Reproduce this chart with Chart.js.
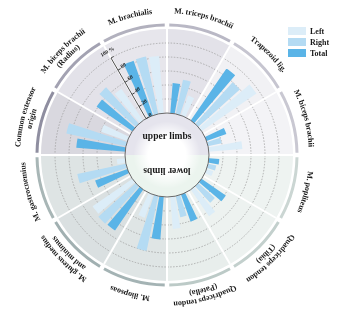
<!DOCTYPE html>
<html>
<head>
<meta charset="utf-8">
<script src="https://cdn.jsdelivr.net/npm/chart.js@4/dist/chart.umd.min.js"></script>
<style>
  html, body { margin: 0; padding: 0; background: #fff; }
</style>
</head>
<body>
<canvas id="chart" width="340" height="314"></canvas>
<script>
// categories clockwise, starting at 9 o'clock (upper limbs first, then lower limbs)
var categories = [
  ['Common extensor', 'origin'],
  ['M. biceps brachii', '(Radius)'],
  ['M. brachialis'],
  ['M. triceps brachii'],
  ['Trapezoid lig.'],
  ['M. biceps brachii'],
  ['M. popliteus'],
  ['Quadriceps tendon', '(Tibia)'],
  ['Quadriceps tendon', '(Patella)'],
  ['M. iliopsoas'],
  ['M. gluteus medius', 'and minimus'],
  ['M. gastrocnemius']
];
var totalValues = [70, 62, 83, 43, 90, 30, 15, 42, 41, 61, 71, 49];
var rightValues = [87, 70, 84, 50, 80, 20, 12, 32, 31, 80, 72, 71];
var leftValues  = [40, 55, 82, 30, 95, 48, 10, 46, 46, 35, 69, 12];
var axisTicks = [0, 20, 40, 60, 80, 100];
var seriesNames = ['Left', 'Right', 'Total'];

var colLeft = '#dcedf8', colRight = '#b4dbf3', colTotal = '#5ab4e7';
var sectorFill = ['#d9d8df', '#e3e2e9', '#e7e6ec', '#e3e2e9', '#f1f1f4', '#f3f3f6',
                  '#eef3f1', '#edf2f0', '#e8eeec', '#dfe5e5', '#dae0e1', '#dee4e4'];
var bandColor = ['#8f8ea0', '#a3a2b2', '#b2b1be', '#b9b8c5', '#c6c5d0', '#c9c8d2',
                 '#cbd6d3', '#c3d0cd', '#bccac7', '#a4b3b4', '#a1b0b1', '#a8b6b6'];

// each sector: edge gap, Total, gap, Right, gap, Left, edge gap (degrees)
var slotAngles = [4.5, 6, 1.5, 6, 1.5, 6, 4.5];
var values = [];
categories.forEach(function (c, i) {
  values.push(0, totalValues[i], 0, rightValues[i], 0, leftValues[i], 0);
});

function slotColor(ctx) {
  var k = ctx.dataIndex % 7;
  if (k === 1) return colTotal;
  if (k === 3) return colRight;
  if (k === 5) return colLeft;
  return 'rgba(0,0,0,0)';
}

function curvedText(ctx, text, cx, cy, r, midAngle) {
  var w = ctx.measureText(text).width;
  var a = midAngle - w / 2 / r;
  for (var i = 0; i < text.length; i++) {
    var cw = ctx.measureText(text[i]).width;
    ctx.save();
    ctx.translate(cx, cy);
    ctx.rotate(a + cw / 2 / r);
    ctx.fillText(text[i], 0, -r);
    ctx.restore();
    a += cw / r;
  }
}

var decor = {
  id: 'decor',
  beforeDraw: function (chart) {
    var ctx = chart.ctx, s = chart.scales.r;
    var cx = s.xCenter, cy = s.yCenter, R = s.drawingArea;
    var step = Math.PI * 2 / categories.length;
    ctx.save();
    categories.forEach(function (c, i) {
      var a0 = s.getIndexAngle(i) - Math.PI / 2;
      ctx.beginPath();
      ctx.moveTo(cx, cy);
      ctx.arc(cx, cy, R, a0, a0 + step);
      ctx.closePath();
      ctx.fillStyle = sectorFill[i];
      ctx.fill();
      // outer band
      var gap = Math.PI / 180;
      ctx.beginPath();
      ctx.arc(cx, cy, R + 4, a0 + gap, a0 + step - gap);
      ctx.strokeStyle = bandColor[i];
      ctx.lineWidth = 3;
      ctx.stroke();
      // label
      ctx.fillStyle = '#1a1a1a';
      ctx.font = 'bold 8px "Liberation Serif"';
      ctx.textAlign = 'center';
      ctx.textBaseline = 'middle';
      var mid = s.getIndexAngle(i) + step / 2;
      if (c.length === 1) {
        curvedText(ctx, c[0], cx, cy, R + 18, mid);
      } else {
        curvedText(ctx, c[0], cx, cy, R + 23, mid);
        curvedText(ctx, c[1], cx, cy, R + 14, mid);
      }
    });
    ctx.restore();
  },
  afterDatasetsDraw: function (chart) {
    var ctx = chart.ctx, s = chart.scales.r;
    var cx = s.xCenter, cy = s.yCenter;
    var r0 = s.getDistanceFromCenterForValue(0);
    ctx.save();
    // center disk
    ctx.beginPath();
    ctx.arc(cx, cy, r0, Math.PI, 2 * Math.PI);
    ctx.closePath();
    ctx.fillStyle = '#e5e4ed';
    ctx.fill();
    ctx.beginPath();
    ctx.arc(cx, cy, r0, 0, Math.PI);
    ctx.closePath();
    ctx.fillStyle = '#ebf4ee';
    ctx.fill();
    var g = ctx.createRadialGradient(cx, cy, 0, cx, cy, r0);
    g.addColorStop(0, 'rgba(255,255,255,1)');
    g.addColorStop(0.45, 'rgba(255,255,255,1)');
    g.addColorStop(0.8, 'rgba(255,255,255,0)');
    ctx.fillStyle = g;
    ctx.beginPath();
    ctx.arc(cx, cy, r0, 0, 2 * Math.PI);
    ctx.fill();
    ctx.strokeStyle = '#6a6a6a';
    ctx.lineWidth = 1;
    ctx.stroke();
    ctx.fillStyle = '#1a1a1a';
    ctx.font = 'bold 9.5px "Liberation Serif"';
    ctx.textAlign = 'center';
    ctx.textBaseline = 'middle';
    ctx.fillText('upper limbs', cx, cy - 18);
    ctx.save();
    ctx.translate(cx, cy);
    ctx.rotate(Math.PI);
    ctx.fillText('lower limbs', 0, -15);
    ctx.restore();

    // value axis along the M. brachialis boundary
    ctx.save();
    ctx.translate(cx, cy);
    ctx.rotate(s.getIndexAngle(2));
    ctx.strokeStyle = '#333';
    ctx.lineWidth = 0.8;
    ctx.beginPath();
    ctx.moveTo(0, -s.getDistanceFromCenterForValue(axisTicks[0]));
    ctx.lineTo(0, -s.getDistanceFromCenterForValue(axisTicks[axisTicks.length - 1]));
    axisTicks.forEach(function (v) {
      var y = -s.getDistanceFromCenterForValue(v);
      ctx.moveTo(0, y);
      ctx.lineTo(3, y);
    });
    ctx.stroke();
    ctx.font = 'bold 5.5px "Liberation Serif"';
    ctx.textBaseline = 'middle';
    axisTicks.forEach(function (v, i) {
      var y = -s.getDistanceFromCenterForValue(v);
      if (i === axisTicks.length - 1) {
        ctx.textAlign = 'center';
        ctx.fillText(v + ' %', 0, y - 7);
      } else {
        ctx.textAlign = 'left';
        ctx.fillText(String(v), 4, y - 1);
      }
    });
    ctx.restore();

    // legend
    var legendCols = [colLeft, colRight, colTotal];
    ctx.font = 'bold 8px "Liberation Serif"';
    ctx.textAlign = 'left';
    seriesNames.forEach(function (n, i) {
      var y = 27 + i * 11;
      ctx.fillStyle = legendCols[i];
      ctx.fillRect(288, y, 18, 8);
      ctx.fillStyle = '#1a1a1a';
      ctx.fillText(n, 310, y + 4.5);
    });
    ctx.restore();
  }
};

new Chart(document.getElementById('chart'), {
  type: 'polarArea',
  data: {
    labels: categories.map(function (c) { return c.join(' '); }),
    datasets: [{
      data: values,
      backgroundColor: slotColor,
      borderWidth: 0,
      angle: function (ctx) { return slotAngles[ctx.dataIndex % 7]; }
    }]
  },
  options: {
    responsive: false,
    animation: false,
    layout: { padding: { left: 41, right: 47, top: 29, bottom: 33 } },
    plugins: { legend: { display: false }, tooltip: { enabled: false } },
    scales: {
      r: {
        min: -60,
        max: 120,
        startAngle: -90,
        ticks: { display: false, stepSize: 20 },
        pointLabels: { display: false },
        grid: {
          circular: true,
          lineWidth: 0.8,
          color: function (ctx) {
            var v = ctx.tick.value;
            return (v >= 20 && v <= 100) ? '#a0a0a0' : 'rgba(0,0,0,0)';
          }
        },
        border: { dash: [1.5, 1.5] },
        angleLines: { display: true, color: '#ffffff', lineWidth: 2 }
      }
    }
  },
  plugins: [decor]
});
</script>
</body>
</html>
